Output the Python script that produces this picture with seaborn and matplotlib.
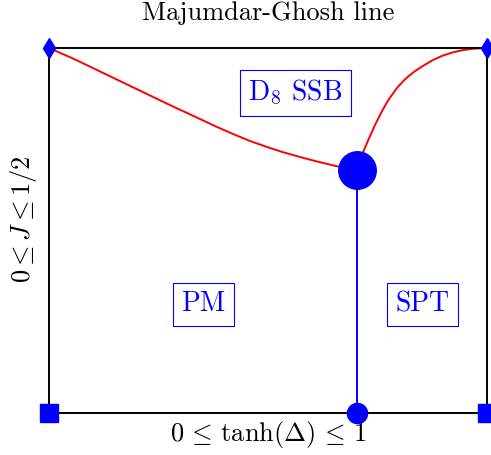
import matplotlib
matplotlib.use("Agg")
import matplotlib.pyplot as plt
import seaborn as sns
import pandas as pd

# phase boundaries (x = tanh(Delta), y = 2J)
left_x = [0.0, 0.0548, 0.1119, 0.1689, 0.2260, 0.2854, 0.3447, 0.3813, 0.4201,
          0.4589, 0.4977, 0.5365, 0.5731, 0.6164, 0.6598, 0.7032]
left_y = [1.0, 0.9712, 0.9384, 0.9055, 0.8726, 0.8384, 0.8055, 0.7849, 0.7644,
          0.7452, 0.7288, 0.7137, 0.7014, 0.6877, 0.6753, 0.6658]
right_x = [0.7032, 0.7176, 0.7290, 0.7443, 0.7596, 0.7747, 0.7938, 0.8128, 0.8317,
           0.8509, 0.8737, 0.8966, 0.9194, 0.9422, 0.9687, 1.0]
right_y = [0.6658, 0.7159, 0.7479, 0.7890, 0.8255, 0.8575, 0.8896, 0.9142, 0.9334,
           0.9488, 0.9652, 0.9781, 0.9871, 0.9937, 0.9981, 1.0]
crit_x = [0.7032, 0.7032]
crit_y = [0.6658, 0.0]

diamond_x = [0.0, 1.0]
diamond_y = [1.0, 1.0]
square_x = [0.0, 1.0]
square_y = [0.0, 0.0]
dot_x = [0.7032]
dot_y = [0.0]
big_x = [0.7032]
big_y = [0.6658]

phase_names = ["D$_8$ SSB", "PM", "SPT"]
phase_x = [0.562, 0.352, 0.852]
phase_y = [0.877, 0.298, 0.298]

sns.set_theme(style="white")
plt.rcParams['font.family'] = 'serif'
plt.rcParams['font.serif'] = ['cmr10']
plt.rcParams['mathtext.fontset'] = 'cm'
plt.rcParams['axes.formatter.use_mathtext'] = True
plt.rcParams['text.color'] = 'black'
plt.rcParams['axes.labelcolor'] = 'black'

fig = plt.figure(figsize=(4.91, 4.55), dpi=100)
ax = fig.add_axes([49/491, 42/455, 438/491, 365/455])

df_l = pd.DataFrame({"x": left_x, "y": left_y})
df_r = pd.DataFrame({"x": right_x, "y": right_y})
sns.lineplot(data=df_l, x="x", y="y", color="red", lw=1.4, ax=ax)
sns.lineplot(data=df_r, x="x", y="y", color="red", lw=1.4, ax=ax)
ax.plot(crit_x, crit_y, color="blue", lw=1.4)

ax.plot(diamond_x, diamond_y, ls="none", marker="d", ms=10.5, color="blue", clip_on=False, zorder=5)
ax.plot(square_x, square_y, ls="none", marker="s", ms=13.5, color="blue", clip_on=False, zorder=5)
ax.plot(dot_x, dot_y, ls="none", marker="o", ms=14.5, color="blue", clip_on=False, zorder=5)
ax.plot(big_x, big_y, ls="none", marker="o", ms=27, color="blue", clip_on=False, zorder=5)

for name, px, py in zip(phase_names, phase_x, phase_y):
    ax.text(px, py, name, color="blue", fontsize=20, ha="center", va="center",
            bbox=dict(boxstyle="square,pad=0.3", fc="white", ec="blue", lw=0.8))

ax.set_xlim(0, 1)
ax.set_ylim(0, 1)
ax.set_xticks([])
ax.set_yticks([])
for s in ax.spines.values():
    s.set_color("black")
    s.set_linewidth(1.4)

ax.set_title("Majumdar-Ghosh line", fontsize=19, pad=20)
ax.set_xlabel(r"$0 \,\leq\, \tanh(\Delta) \,\leq\, 1$", fontsize=19, labelpad=4)
ax.set_ylabel(r"$0 \leq J \leq 1/2$", fontsize=19)
ax.yaxis.set_label_coords(-0.022, 0.53)

fig.savefig("out.png", dpi=100)
